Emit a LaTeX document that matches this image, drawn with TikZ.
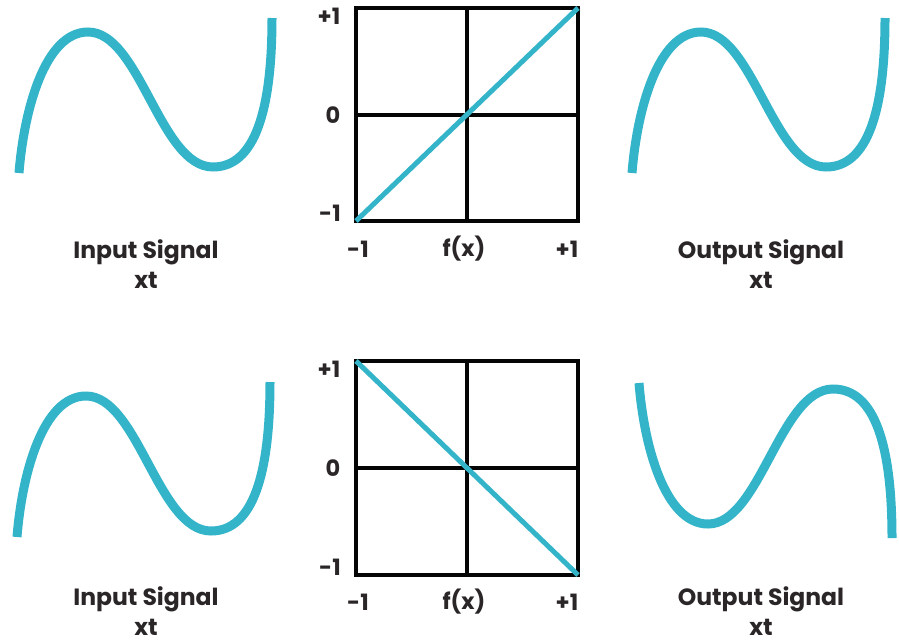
\documentclass[tikz,border=0pt]{standalone}
\usepackage{fontspec}
\setmainfont{Poppins}
\usepackage{tikz}
\definecolor{SigCyan}{HTML}{34B4C9}
\definecolor{GridBlack}{HTML}{050505}
\definecolor{CapGray}{HTML}{2A2627}
\tikzset{
  grid/.style={draw=GridBlack,line width=4.5pt},
  transfer/.style={draw=SigCyan,line width=5pt},
  wave/.style={draw=SigCyan,line width=9pt},
  axlabel/.style={inner sep=0pt,text=CapGray,font=\fontsize{22.5}{26}\selectfont\bfseries},
  caption/.style={inner sep=0pt,align=center,text=CapGray,
    font=\fontsize{23.5}{30}\selectfont\bfseries},
  sigwave/.pic={
    \draw[wave] (0,0) .. controls (5,-63) and (26,-141) .. (69,-141)
      .. controls (121,-141) and (141,-6) .. (194,-6)
      .. controls (236,-6) and (253,-63) .. (253,-155);
  }
}
\begin{document}
\begin{tikzpicture}[x=1pt,y=-1pt]
  \useasboundingbox (0,0) rectangle (899,643);
  % top row: rising transfer
  \pic at (19,173) {sigwave};
  \pic at (632,173) {sigwave};
  \draw[grid] (356,8) rectangle (578,221);
  \draw[grid] (467,8) -- (467,221) (356,115) -- (578,115);
  \draw[transfer] (356,221) -- (578,8);
  \node[axlabel] (tp) at (329,16) {+1};
  \node[axlabel] (tz) at (333,115) {0};
  \node[axlabel] (tm) at (330,213) {-1};
  \node[axlabel] (tl) at (358,249) {-1};
  \node[axlabel] (tf) at (464,249) {f(x)};
  \node[axlabel] (tr) at (567,249) {+1};
  \node[caption] (inTop) at (146,264) {Input Signal\\xt};
  \node[caption] (outTop) at (761,264) {Output Signal\\xt};
  % bottom row: falling transfer
  \pic at (17,537) {sigwave};
  \pic[yscale=-1] at (639,383) {sigwave};
  \draw[grid] (356,361) rectangle (578,575);
  \draw[grid] (467,361) -- (467,575) (356,468) -- (578,468);
  \draw[transfer] (356,361) -- (578,575);
  \node[axlabel] (bp) at (329,369) {+1};
  \node[axlabel] (bz) at (333,468) {0};
  \node[axlabel] (bm) at (330,567) {-1};
  \node[axlabel] (bl) at (358,602) {-1};
  \node[axlabel] (bf) at (464,602) {f(x)};
  \node[axlabel] (br) at (567,602) {+1};
  \node[caption] (inBot) at (146,611) {Input Signal\\xt};
  \node[caption] (outBot) at (761,611) {Output Signal\\xt};
\end{tikzpicture}
\end{document}
